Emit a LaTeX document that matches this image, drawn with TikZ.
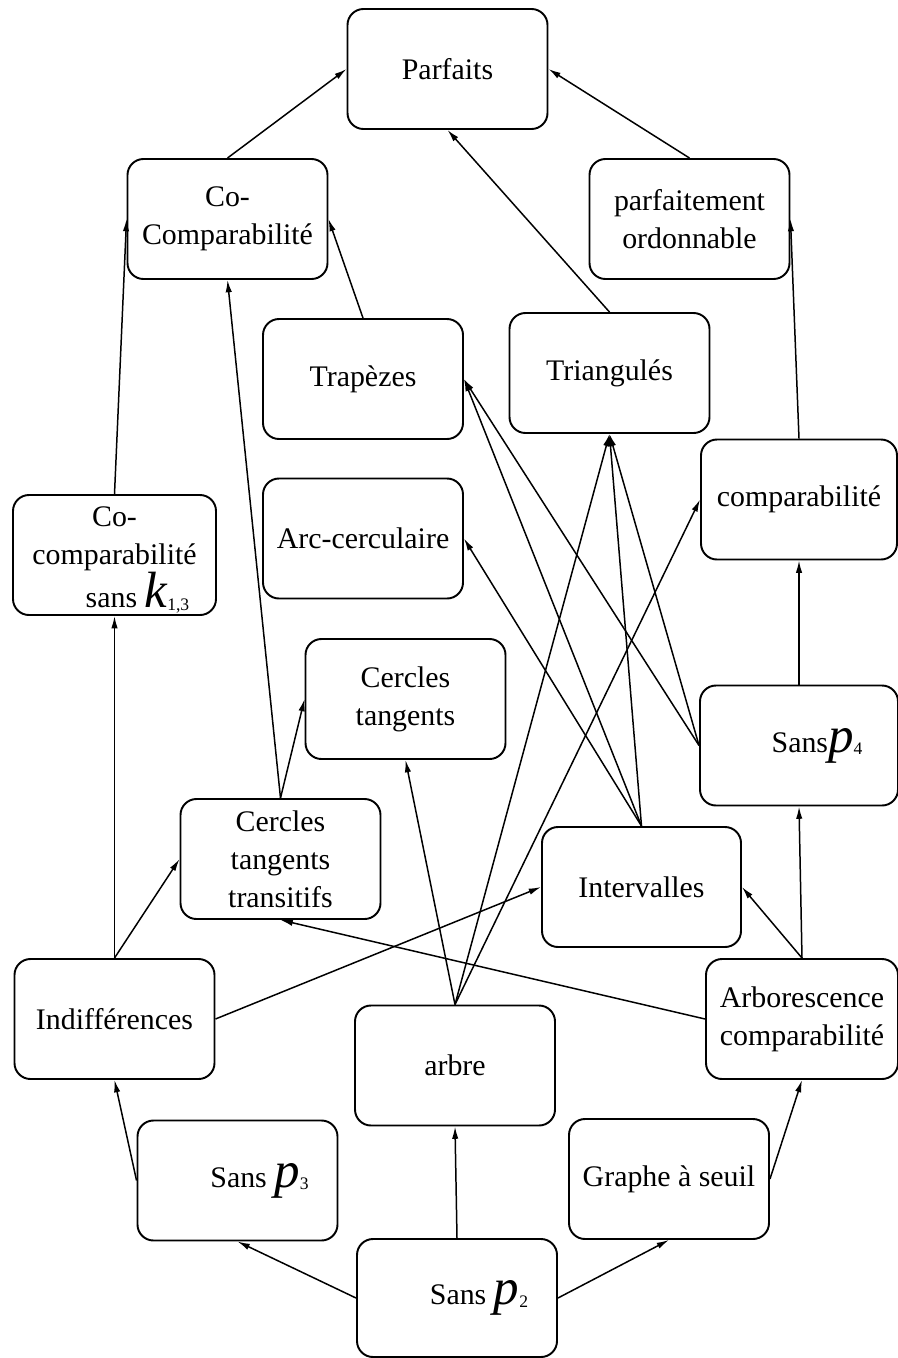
\documentclass[tikz,border=0pt]{standalone}
\usepackage{fontspec}
\setmainfont{Liberation Serif}
\usepackage{tikz}
\usetikzlibrary{shapes.geometric, arrows, arrows.meta, positioning}

% big italic letter with a small index, as in P_4 or K_{1,3}
\newcommand{\grandvar}[2]{{\fontsize{29}{29}\selectfont\itshape #1}\raisebox{-1.5pt}{\fontsize{10}{10}\selectfont #2}}

\begin{document}
\begin{tikzpicture}[node distance=3cm, auto]
    \tikzstyle{classe} = [rectangle, draw, rounded corners=0.32cm, line width=1.1pt, minimum width=4cm, minimum height=2.4cm, align=center, font=\fontsize{17}{21.5}\selectfont]
    \tikzstyle{line} = [draw, -{Latex[length=7pt, width=3.6pt]}, line width=0.85pt]

    \useasboundingbox (0,0) rectangle (17.96,-27.16);

    \node [classe] at (8.95,-1.38) (parf) {Parfaits};
    \node [classe, below of=parf, xshift=-4.4cm] (cocomp) {Co-\\Comparabilité};
    \node [classe, below of=parf, xshift=4.84cm] (parford) {parfaitement\\ordonnable};
    \node [classe, below of=cocomp, xshift=2.71cm, node distance=3.2cm] (trap) {Trapèzes};
    \node [classe, below of=parford, xshift=-1.6cm, node distance=3.08cm] (tri) {Triangulés};
    \node [classe, below of=parford, xshift=2.19cm, node distance=5.61cm, minimum width=3.92cm] (comp) {comparabilité};
    \node [classe, below of=trap, node distance=3.19cm] (arc) {Arc-cerculaire};
    \node [classe, below of=cocomp, xshift=-2.26cm, node distance=6.72cm, minimum width=4.06cm, inner ysep=0.5pt] (cok) {\rule{0pt}{17pt}Co-\\comparabilité\\\hspace*{0.92cm}sans \grandvar{k}{1,3}};
    \node [classe, below of=arc, xshift=0.85cm, node distance=3.21cm] (cerc) {Cercles\\tangents};
    \node [classe, below of=comp, node distance=4.92cm, minimum width=3.96cm] (sp4) {\hspace*{0.72cm}Sans\grandvar{p}{4}};
    \node [classe, below of=cerc, xshift=-2.5cm, node distance=3.2cm] (cttr) {Cercles\\tangents\\transitifs};
    \node [classe, below of=tri, xshift=0.64cm, node distance=10.28cm, minimum width=3.98cm] (inter) {Intervalles};
    \node [classe, below of=cok, node distance=9.28cm] (indiff) {Indifférences};
    \node [classe, below of=sp4, xshift=0.06cm, node distance=5.47cm, minimum width=3.84cm] (arbo) {Arborescence\\comparabilité};
    \node [classe, below of=cerc, xshift=0.99cm, node distance=7.33cm] (arbre) {arbre};
    \node [classe, below of=indiff, xshift=2.46cm, node distance=3.23cm] (sp3) {\hspace*{0.88cm}Sans \grandvar{p}{3}};
    \node [classe, below of=arbre, xshift=4.28cm, node distance=2.27cm] (seuil) {Graphe à seuil};
    \node [classe, below of=arbre, xshift=0.04cm, node distance=4.65cm, minimum height=2.36cm] (sp2) {\hspace*{0.88cm}Sans \grandvar{p}{2}};

    % top of the hierarchy
    \path [line] (cocomp.north) -- (parf.west);
    \path [line] (parford.north) -- (parf.east);
    \path [line] (tri.north) -- (parf.south);
    \path [line] (trap.north) -- (cocomp.east);
    \path [line] (cok.north) -- (cocomp.west);
    \path [line] (cttr.north) -- (cocomp.south);
    \path [line] (comp.north) -- (parford.east);
    \path [line] (sp4.north) -- (comp.south);

    % middle
    \path [line] (indiff.north) -- (cok.south);
    \path [line] (indiff.north) -- (cttr.west);
    \path [line] (indiff.east) -- (inter.west);
    \path [line] (cttr.north) -- (cerc.west);
    \path [line] (arbre.north) -- (cerc.south);
    \path [line] (arbre.north) -- (tri.south);
    \path [line] (arbre.north) -- (comp.west);
    \path [line] (inter.north) -- (trap.east);
    \path [line] (inter.north) -- (arc.east);
    \path [line] (inter.north) -- (tri.south);
    \path [line] (sp4.west) -- (tri.south);
    \path [line] (sp4.west) -- (trap.east);
    \path [line] (arbo.north) -- (inter.east);
    \path [line] (arbo.north) -- (sp4.south);
    \path [line] (arbo.west) -- (cttr.south);

    % bottom
    \path [line] (sp2.north) -- (arbre.south);
    \path [line] (sp2.west) -- (sp3.south);
    \path [line] (sp2.east) -- (seuil.south);
    \path [line] (sp3.west) -- (indiff.south);
    \path [line] (seuil.east) -- (arbo.south);
\end{tikzpicture}
\end{document}
